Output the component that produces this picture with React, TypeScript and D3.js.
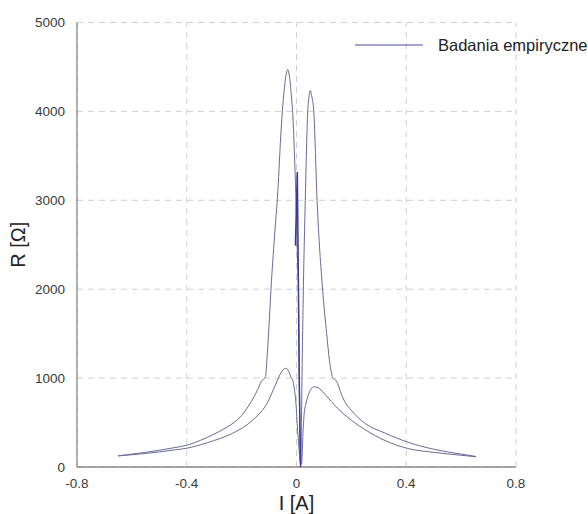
import React from "react";
import * as d3 from "d3";

const xTicks = [-0.8, -0.4, 0, 0.4, 0.8];
const yTicks = [0, 1000, 2000, 3000, 4000, 5000];
const legendLabel = "Badania empiryczne";
const xLabel = "I [A]";
const yLabel = "R [Ω]";

// Upper branch (I [A], R [Ω])
const upperI = [
  -0.65, -0.6, -0.55, -0.5, -0.45, -0.397, -0.35, -0.3, -0.25, -0.228, -0.2, -0.175, -0.155, -0.14,
  -0.129, -0.12, -0.113, -0.108, -0.1, -0.093, -0.08, -0.068, -0.056, -0.044, -0.037, -0.032,
  -0.025, -0.018, -0.014, -0.008, -0.002, 0.004, 0.007, 0.01, 0.012, 0.0135, 0.016, 0.018, 0.02,
  0.025, 0.032, 0.041, 0.046, 0.05, 0.055, 0.063, 0.075, 0.095, 0.11, 0.12, 0.128, 0.132, 0.142,
  0.15, 0.16, 0.175, 0.199, 0.25, 0.32, 0.41, 0.5, 0.6, 0.654,
];
const upperR = [
  125, 145, 165, 188, 215, 247, 300, 370, 455, 500, 580, 685, 790, 880,
  958, 990, 1010, 1200, 1600, 2000, 2600, 3100, 3800, 4270, 4430, 4470,
  4380, 4150, 3990, 3560, 3000, 2300, 2000, 1000, 300, 40, 60, 500, 1000,
  2000, 3000, 4000, 4180, 4236, 4180, 4000, 3000, 2000, 1500, 1200, 1050, 1000, 980,
  940, 850, 740, 640, 490, 385, 275, 200, 145, 118,
];

// Lower branch (I [A], R [Ω])
const lowerI = [
  -0.65, -0.6, -0.55, -0.5, -0.45, -0.397, -0.35, -0.3, -0.25, -0.214, -0.18, -0.15, -0.129, -0.1,
  -0.093, -0.08, -0.069, -0.06, -0.05, -0.043, -0.038, -0.033, -0.026, -0.02, -0.014, -0.008,
  -0.002, 0.004, 0.008, 0.012, 0.016, 0.019, 0.023, 0.028, 0.035, 0.041, 0.05, 0.065, 0.08, 0.1,
  0.126, 0.15, 0.199, 0.25, 0.319, 0.41, 0.5, 0.6, 0.654,
];
const lowerR = [
  125, 138, 152, 170, 190, 213, 250, 298, 355, 410, 475, 555, 620, 760,
  809, 900, 978, 1040, 1090, 1105, 1110, 1100, 1060, 1010, 978, 880,
  716, 416, 250, 100, 30, 45, 340, 600, 720, 790, 860, 902, 890, 830,
  740, 660, 528, 420, 303, 205, 165, 132, 116,
];

// Narrow spike near zero
const spikeI = [-0.004, 0.003, 0.01, 0.015];
const spikeR = [2490, 3320, 1000, 0];

export default function App() {
  const W = 588;
  const H = 514;
  const x = d3.scaleLinear().domain([-0.8, 0.8]).range([77, 516]);
  const y = d3.scaleLinear().domain([0, 5000]).range([467, 22.5]);

  const line = d3
    .line<[number, number]>()
    .x((d) => x(d[0]))
    .y((d) => y(d[1]))
    .curve(d3.curveMonotoneX);
  const lin = d3
    .line<[number, number]>()
    .x((d) => x(d[0]))
    .y((d) => y(d[1]));

  const upper = upperI.map((v, i) => [v, upperR[i]] as [number, number]);
  const lower = lowerI.map((v, i) => [v, lowerR[i]] as [number, number]);
  const spike = spikeI.map((v, i) => [v, spikeR[i]] as [number, number]);

  const font = "'Liberation Sans', Arial, sans-serif";
  const curveColor = "#6a6a98";

  return (
    <svg
      width={W}
      height={H}
      style={{ position: "absolute", left: 0, top: 0, background: "#fff" }}
      fontFamily={font}
    >
      <rect x={0} y={0} width={W} height={H} fill="#fff" />
      {xTicks.map((t) => (
        <line
          key={"gx" + t}
          x1={x(t)}
          x2={x(t)}
          y1={y(0)}
          y2={y(5000)}
          stroke="#d0d0d0"
          strokeDasharray="6,5"
          strokeWidth={1}
        />
      ))}
      {yTicks.map((t) => (
        <line
          key={"gy" + t}
          x1={x(-0.8)}
          x2={x(0.8)}
          y1={y(t)}
          y2={y(t)}
          stroke="#d0d0d0"
          strokeDasharray="6,5"
          strokeWidth={1}
        />
      ))}
      <line x1={x(-0.8)} x2={x(-0.8)} y1={y(0)} y2={y(5000)} stroke="#8a8a8a" strokeWidth={1.3} />
      <line x1={x(-0.8)} x2={x(0.8)} y1={y(0)} y2={y(0)} stroke="#8a8a8a" strokeWidth={1.3} />
      {yTicks.map((t) => (
        <text key={"ty" + t} x={65} y={y(t)} dy="0.35em" textAnchor="end" fontSize={13.5} fill="#3a3a3a">
          {t}
        </text>
      ))}
      {xTicks.map((t) => (
        <text key={"tx" + t} x={x(t)} y={488} textAnchor="middle" fontSize={13.5} fill="#3a3a3a">
          {t === 0 ? "0" : String(t)}
        </text>
      ))}
      <text x={x(0)} y={510} textAnchor="middle" fontSize={20} fill="#222">
        {xLabel}
      </text>
      <text
        transform={`translate(25,${(y(0) + y(5000)) / 2}) rotate(-90)`}
        textAnchor="middle"
        fontSize={20}
        fill="#222"
      >
        {yLabel}
      </text>
      <path d={line(upper) || ""} fill="none" stroke={curveColor} strokeWidth={1} />
      <path d={line(lower) || ""} fill="none" stroke={curveColor} strokeWidth={1} />
      <path d={lin(spike) || ""} fill="none" stroke="#3a3a9a" strokeWidth={1.5} />
      <line x1={355} x2={423} y1={45} y2={45} stroke="#4b4ba0" strokeWidth={1} />
      <text x={438} y={45} dy="0.35em" fontSize={16.5} fill="#222">
        {legendLabel}
      </text>
    </svg>
  );
}
